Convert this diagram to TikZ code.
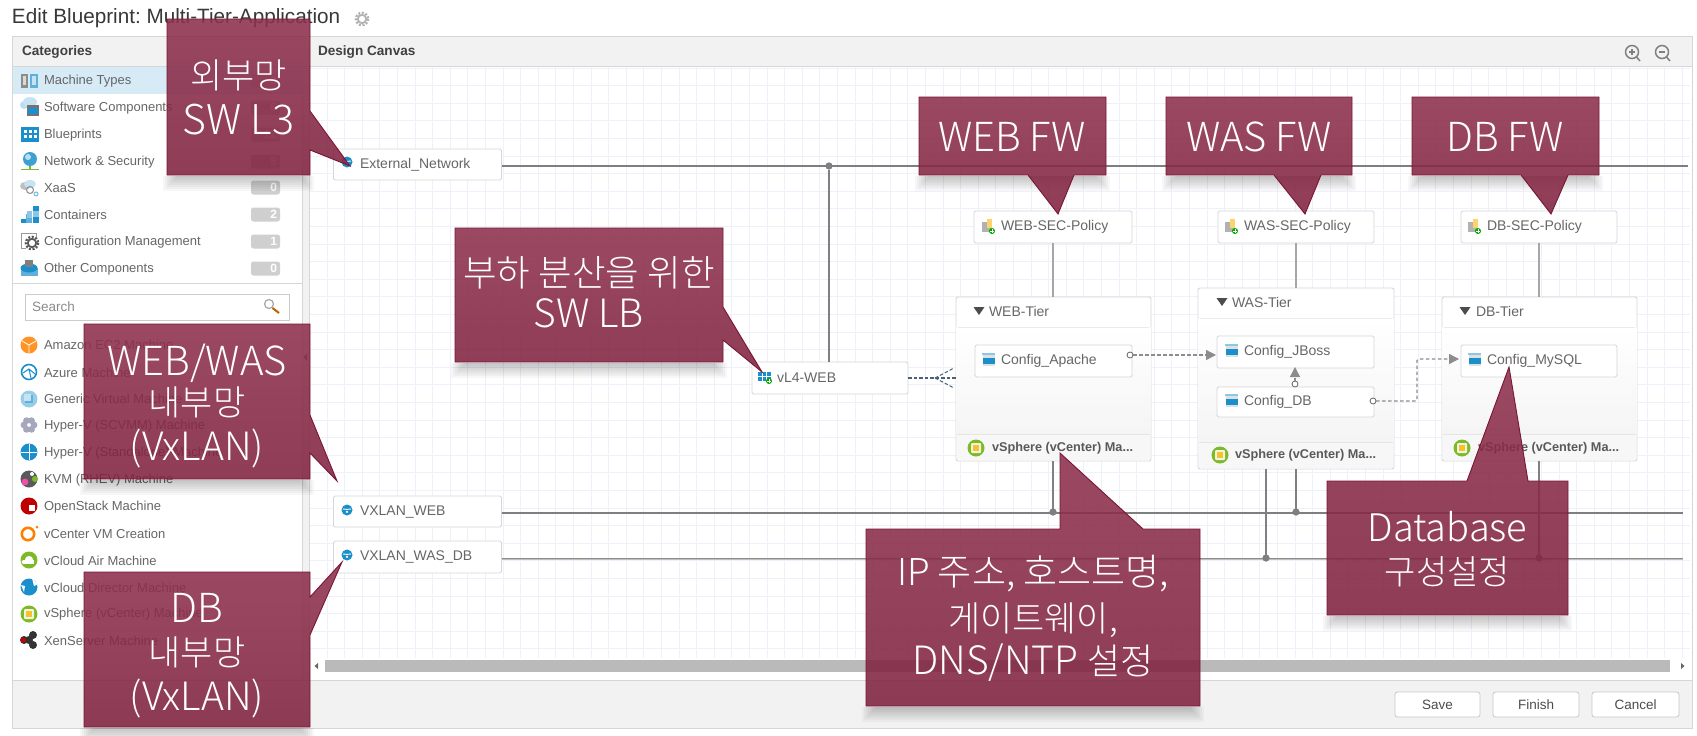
\documentclass[tikz,border=0pt]{standalone}
\usepackage{fontspec}
\setmainfont{Liberation Sans}
\newfontfamily\krfont{Noto Sans CJK KR Light}
\frenchspacing
\usetikzlibrary{arrows.meta,calc}
\definecolor{uitext}{HTML}{666666}
\definecolor{uiline}{HTML}{D6D6D6}
\definecolor{bandgray}{HTML}{F2F2F2}
\definecolor{gridline}{HTML}{EEF1FA}
\definecolor{netgray}{HTML}{7F7F7F}
\definecolor{ctop}{HTML}{8E304D}
\definecolor{cbot}{HTML}{802240}
\definecolor{cedge}{HTML}{7A1534}
\definecolor{blue1}{HTML}{1B8FCB}
\definecolor{green1}{HTML}{7DB928}
\definecolor{yellow1}{HTML}{FBC02D}
\definecolor{slatedash}{HTML}{4A5F78}
\tikzset{
  x=1pt,y=-1pt,
  every node/.style={inner sep=0pt,outer sep=0pt},
  wnode/.style n args={2}{draw=uiline,fill=white,line width=.9pt,rounded corners=1.5pt,minimum width=#1,minimum height=#2},
  tierbox/.style n args={2}{draw=uiline,fill=white,line width=.9pt,rounded corners=2pt,minimum width=#1,minimum height=#2},
  lab/.style={anchor=west,yshift=-1pt,text=uitext,font=\fontsize{14}{16}\selectfont},
  catlab/.style={anchor=west,yshift=-1pt,text=uitext,font=\fontsize{13}{15}\selectfont},
  headlab/.style={anchor=west,text=black!75,font=\fontsize{13.6}{15}\bfseries\selectfont},
  footlab/.style={anchor=west,yshift=-1pt,text=black!65,font=\fontsize{12.7}{15}\bfseries\selectfont},
  badge/.style={fill=black!19,rounded corners=2.5pt,minimum width=29pt,minimum height=14pt,text width=23pt,align=right,text=white,font=\fontsize{12}{14}\bfseries\selectfont},
  btn/.style={draw=black!22,fill=white,rounded corners=2.5pt,line width=.8pt,minimum width=#1,minimum height=25pt,text=black!70,font=\fontsize{13.5}{15}\selectfont},
  netline/.style={draw=netgray,line width=1.4pt},
  netdouble/.style={draw=black!45,line width=2.8pt},
  vline/.style={draw=black!50,line width=1.6pt},
  netdot/.style={circle,fill=netgray,minimum size=7pt},
  port/.style={circle,draw=black!60,fill=white,line width=.8pt,minimum size=6pt},
  depend/.style={draw=black!45,line width=1.3pt,dash pattern=on 3.5pt off 2.5pt,-{Triangle[length=10pt,width=10pt,fill=black!45]}},
  lbdash/.style={draw=slatedash,line width=1pt,dash pattern=on 3.5pt off 2pt},
  calloutshape/.style={draw=cedge,line width=.9pt,top color=ctop,bottom color=cbot,fill opacity=.88,draw opacity=1},
  callouttext/.style={text=white,align=center,font=\krfont\fontsize{#1}{#1}\selectfont},
}
\newcommand{\softshadow}[4]{%
  \foreach \d in {2,4,...,16}{\fill[black,opacity=.03] (#1+12-\d,#4+.5) rectangle (#2-12+\d,#4+\d);}}
\newcommand{\globeicon}[2]{\fill[blue1] (#1,#2) circle (5.5);\draw[white,line width=.9pt] (#1-4,#2-1) .. controls (#1-1,#2+1) and (#1+1,#2-2) .. (#1+4,#2-1);\fill[white] (#1,#2+1.8) circle (1.2);}
\newcommand{\configicon}[2]{\fill[black!12] (#1-5.5,#2-7) rectangle (#1+6.5,#2+6);\fill[blue1] (#1-5.5,#2-2.5) rectangle (#1+6.5,#2+3.5);\fill[blue1!50] (#1-6,#2-7.5) rectangle (#1+6.5,#2-5.5);}
\newcommand{\greenplus}[2]{\fill[green!65!black] (#1,#2) circle (3);\draw[white,line width=.8pt] (#1-1.8,#2) -- (#1+1.8,#2) (#1,#2-1.8) -- (#1,#2+1.8);}
\newcommand{\policyicon}[2]{\fill[black!30] (#1-6,#2-4) rectangle (#1+3,#2+6);\fill[yellow1!70] (#1-1,#2-7) -- (#1+4,#2-7) -- (#1+4,#2+2) -- (#1-1,#2+2) -- cycle;\greenplus{#1+4}{#2+5}}
\newcommand{\sphereicon}[2]{\fill[green1] (#1,#2) circle (8.5);\fill[white!85!green1,rounded corners=1pt] (#1-5,#2-5) rectangle (#1+5,#2+5);\fill[yellow1] (#1-3,#2-3) rectangle (#1+3,#2+3);}
\newcommand{\tri}[2]{\fill[black!70] (#1-5.5,#2-4) -- (#1+5.5,#2-4) -- (#1,#2+4) -- cycle;}
\newcommand{\gearicon}[3]{\draw[#3,line width=2.2pt,dash pattern=on 2pt off 1.6pt] (#1,#2) circle (6.2);\draw[#3,line width=1.8pt] (#1,#2) circle (4.2);}
\begin{document}
\begin{tikzpicture}
\useasboundingbox (0,0) rectangle (1697,736);
\fill[white] (0,0) rectangle (1697,736);
% title
\node[anchor=west,text=black!78,font=\fontsize{20.7}{22}\selectfont] (title) at (12,18) {Edit Blueprint: Multi-Tier-Application};
\gearicon{362}{19}{black!30}
% panel
\fill[bandgray] (12,36) rectangle (1692,66);
\fill[bandgray] (12,680) rectangle (1692,728);
\fill[bandgray] (302,66) rectangle (309,680);
\foreach \gx in {0,...,77}{\draw[gridline,line width=.9pt] (327+17.6*\gx,66) -- (327+17.6*\gx,658);}
\foreach \gy in {0,...,33}{\draw[gridline,line width=.9pt] (309,68+17.6*\gy) -- (1690,68+17.6*\gy);}
\fill[white] (309,658) rectangle (1692,680);
\draw[uiline,line width=.9pt] (12,36) rectangle (1692,728);
\draw[uiline,line width=.9pt] (12,66) -- (1692,66) (12,680) -- (1692,680) (302,66) -- (302,680) (309,66) -- (309,680);
\node[headlab] (cathead) at (22,52) {Categories};
\node[headlab] (canhead) at (318,52) {Design Canvas};
% zoom buttons
\draw[black!50,line width=1.5pt] (1632,52) circle (6.5) (1636.5,57) -- (1640,61);
\draw[black!50,line width=1.2pt] (1629,52) -- (1635,52) (1632,49) -- (1632,55);
\draw[black!50,line width=1.5pt] (1662,52) circle (6.5) (1666.5,57) -- (1670,61);
\draw[black!50,line width=1.2pt] (1659,52) -- (1665,52);
% categories
\fill[blue1!18] (13,67) rectangle (302,94);
\foreach \yy/\tt/\bb in {80/Machine Types/3,107/Software Components/6,134/Blueprints/12,161/Network \& Security/8,187/XaaS/0,214/Containers/2,241/Configuration Management/1,268/Other Components/0}{
  \node[catlab] at (44,\yy) {\tt};
  \node[badge] at (265.5,\yy+.5) {\bb};
}
% category icons
\fill[black!45] (21,74) rectangle (28,88);\fill[black!15] (23,76) rectangle (26,85);\fill[blue1!70] (30,74) rectangle (38,88);\fill[blue1!25] (32,76) rectangle (36,85);
\fill[blue1!30] (24,105) ellipse (4 and 4);\fill[blue1!25] (30,102) ellipse (7 and 5);\fill[black!55] (27,105) rectangle (39,116);\fill[blue1] (28,108) rectangle (38,114);
\fill[blue1] (21,127) rectangle (39,142);\foreach \a in {0,1,2}{\foreach \b in {0,1}{\fill[white] (24+\a*5,130+\b*5) rectangle (27+\a*5,132.5+\b*5);}}
\fill[green1] (29,166) rectangle (30.5,169);\draw[green1,line width=1pt] (21,169.5) -- (39,169.5);\fill[blue1!85] (30,159) circle (7);\fill[blue1!30] (28,157) circle (3);
\fill[black!25] (25,186) ellipse (5 and 4);\fill[blue1!25] (30,184) ellipse (6 and 4);\draw[black!45,line width=1pt] (30,190) circle (3.5);\draw[blue1!60,line width=1pt] (36,194) circle (2);
\fill[blue1] (21,219) rectangle (26,223);\fill[blue1!70] (21,214) ++(5,0) rectangle (32,223);\fill[blue1!50] (27,211) rectangle (32,218);\fill[blue1] (33,206) rectangle (39,223);\fill[blue1!50] (33,211) rectangle (39,217);
\draw[black!40,line width=.9pt] (21,233) rectangle (36,248);\fill[white] (26,238) rectangle (40,250);\gearicon{32}{243}{black!65}
\fill[blue1!70] (21,268) rectangle (38,276);\fill[blue1] (29,268) ellipse (8.5 and 4.5);\fill[black!50] (25,260) rectangle (33,267);
% search
\draw[uiline,line width=.9pt] (12,283) -- (302,283);
\node[draw=black!20,fill=white,line width=.9pt,minimum width=264pt,minimum height=26pt] (search) at (157,307) {};
\node[anchor=west,text=black!45,font=\fontsize{13.5}{15}\selectfont] (searchtxt) at (32,307) {Search};
\draw[black!35,line width=1.2pt] (269,304) circle (4.5);
\draw[orange!75!black,line width=2pt] (272.5,308) -- (279,313);
% machine list
\foreach \yy/\tt in {344/Amazon EC2 Machine,372/Azure Machine,398/Generic Virtual Machine,425/Hyper-V (SCVMM) Machine,452/Hyper-V (Standalone) Machine,479/KVM (RHEV) Machine,506/OpenStack Machine,533/vCenter VM Creation,560/vCloud Air Machine,587/vCloud Director Machine,613/vSphere (vCenter) Machine,640/XenServer Machine}{
  \node[catlab] at (44,\yy) {\tt};
}
\fill[orange!85] (29,345) circle (8.5);\draw[white,line width=.8pt] (22,341) -- (29,345) -- (36,341) (29,345) -- (29,353);
\draw[blue1,line width=1.6pt] (29,372) circle (7.5);\draw[blue1,line width=1pt] (23,373) -- (29,369) -- (35,374) (29,369) -- (31,378);
\fill[blue1!45] (29,399) circle (8.5);\fill[blue1!70] (25,395) rectangle (33,403);\fill[blue1!25] (24,394) rectangle (31,401);
\foreach \a in {0,60,...,300}{\fill[blue!25!black!35] (29,425) ++(\a:5) circle (3.4);}
\fill[blue1] (29,452) circle (8.5);\draw[white,line width=1pt] (21,452) -- (37,452) (29,444) -- (29,460);
\fill[black!65] (29,479) circle (8.5);\fill[magenta!70] (25,482) circle (3.4);\fill[green1] (35,479) circle (3);\fill[white] (32,474) circle (2);
\fill[red!75!black] (29,506) circle (8.5);\fill[white] (29,505) rectangle (35,511);
\draw[orange,line width=2.6pt] (28,534) circle (6.2);\fill[orange] (37,527) circle (1.5);
\fill[green1] (29,560) circle (8.5);\fill[white] (24,562) ellipse (2.5 and 2);\fill[white] (29,559.5) ellipse (4 and 3.5);\fill[white] (24,560) rectangle (34,563.5);
\fill[blue1] (29,587) circle (8.5);\fill[white] (32,578) -- (38,584) -- (34,586) -- cycle;\fill[white] (21,585) -- (25,586) -- (24,592) -- cycle;
\sphereicon{29}{614}
\fill[black!80] (24,640) circle (4);\fill[black!80] (33,635) circle (4);\fill[black!80] (33,645) circle (4);\fill[black!80] (29,640) circle (4);\fill[red!80!black] (23,640) circle (2.6);
% scrollbars
\fill[black!27] (325,660) rectangle (1670,672);
\fill[black!60] (318,663) -- (318,669) -- (314.5,666) -- cycle;
\fill[black!60] (1681,663) -- (1681,669) -- (1684.5,666) -- cycle;
\fill[black!60] (303.5,357) -- (307,353.5) -- (307,360.5) -- cycle;
% network nodes
\node[wnode={168pt}{31pt}] (ext) at (417.5,164.5) {};
\node[wnode={168pt}{31pt}] (vxweb) at (417.5,511.5) {};
\node[wnode={168pt}{32pt}] (vxdb) at (417.5,557) {};
\node[wnode={156pt}{32pt}] (vl) at (830,378) {};
\node[lab] (extlab) at (360,164) {External\_Network};
\node[lab] (vxweblab) at (360,511) {VXLAN\_WEB};
\node[lab] (vxdblab) at (360,556) {VXLAN\_WAS\_DB};
\node[lab] (vllab) at (777,377) {vL4-WEB};
\globeicon{347}{162}
\globeicon{347}{510}
\globeicon{347}{555}
\fill[blue1] (758,372) rectangle (771,381);\draw[white,line width=.6pt] (758,376) -- (771,376) (762,372) -- (762,381) (766,372) -- (766,381);\greenplus{769}{381}
% policies
\node[wnode={158pt}{32pt}] (webpol) at (1053,227) {};
\node[wnode={156pt}{32pt}] (waspol) at (1296,227) {};
\node[wnode={156pt}{32pt}] (dbpol) at (1539,227) {};
\node[lab] (webpoll) at (1001,226) {WEB-SEC-Policy};
\node[lab] (waspoll) at (1244,226) {WAS-SEC-Policy};
\node[lab] (dbpoll) at (1487,226) {DB-SEC-Policy};
\policyicon{988}{226}
\policyicon{1231}{226}
\policyicon{1474}{226}
% junctions and bus ends
\coordinate (extend) at (1688,166);
\coordinate (webend) at (1683,513);
\coordinate (dbend) at (1683,559);
\node[netdot] (jvl) at (829,166) {};
\node[netdot] (jweb) at (1053,512) {};
\node[netdot] (jwas) at (1296,512) {};
\node[netdot] (jwasdb) at (1266,558) {};
\node[netdot] (jdb) at (1539,558) {};
% tiers
\node[tierbox={195pt}{164pt}] (webtier) at (1053.5,379) {};
\node[tierbox={196pt}{181pt}] (wastier) at (1296,378.5) {};
\node[tierbox={195pt}{164pt}] (dbtier) at (1539.5,379) {};
% buses
\draw[netline] (ext.east |- extend) -- (extend);
\draw[netline] (vxweb.east |- webend) -- (webend);
\draw[netdouble] (vxdb.east |- dbend) -- (dbend);
\draw[white!75!black,line width=.8pt] (vxdb.east |- dbend) -- (dbend);
\draw[vline] (vl.north -| jvl) -- (jvl);
\draw[vline,black!35] (webpol.south) -- (webpol.south |- webtier.north);
\draw[vline,black!35] (waspol.south) -- (waspol.south |- wastier.north);
\draw[vline,black!35] (dbpol.south) -- (dbpol.south |- dbtier.north);
\draw[vline] (webtier.south -| jweb) -- (jweb);
\draw[vline] (wastier.south -| jwas) -- (jwas);
\draw[vline] (wastier.south -| jwasdb) -- (jwasdb);
\draw[vline] (dbtier.south -| jdb) -- (jdb);
\node[netdot] at (jvl) {};\node[netdot] at (jweb) {};\node[netdot] at (jwas) {};\node[netdot] at (jwasdb) {};\node[netdot] at (jdb) {};
% tier interiors
\foreach \xa/\xb/\ya/\yb/\yc/\yd in {956/1151/297/327/434/461,1198/1394/288/318/442/469,1442/1637/297/327/434/461}{
  \fill[top color=white,bottom color=black!4] (\xa+.6,\yb) rectangle (\xb-.6,\yc);
  \draw[black!8,line width=.9pt] (\xa+2,\yb) -- (\xb-2,\yb);
  \fill[rounded corners=1.5pt,black!3] (\xa+.6,\yc) rectangle (\xb-.6,\yd-.6);
  \draw[black!10,line width=.9pt] (\xa+.6,\yc) -- (\xb-.6,\yc);
}
\tri{979}{311}\tri{1222}{302}\tri{1465}{311}
\node[lab,yshift=.5pt] (webhead) at (989,311) {WEB-Tier};
\node[lab,yshift=.5pt] (washead) at (1232,302) {WAS-Tier};
\node[lab,yshift=.5pt] (dbhead) at (1476,311) {DB-Tier};
\node[wnode={157pt}{32pt}] (apache) at (1053.5,361) {};
\node[wnode={157pt}{32pt}] (jboss) at (1295.5,352) {};
\node[wnode={157pt}{30pt}] (cfgdb) at (1295.5,402) {};
\node[wnode={156pt}{32pt}] (mysql) at (1539,361) {};
\node[lab] (apachel) at (1001,360) {Config\_Apache};
\node[lab] (jbossl) at (1244,351) {Config\_JBoss};
\node[lab] (cfgdbl) at (1244,401) {Config\_DB};
\node[lab] (mysqll) at (1487,360) {Config\_MySQL};
\configicon{988}{360}
\configicon{1231}{351}
\configicon{1231}{401}
\configicon{1474}{360}
\sphereicon{976}{448}\sphereicon{1220}{455}\sphereicon{1462}{448}
\node[footlab] (webfoot) at (992,447.5) {vSphere (vCenter) Ma...};
\node[footlab] (wasfoot) at (1235,454.5) {vSphere (vCenter) Ma...};
\node[footlab] (dbfoot) at (1478,447.5) {vSphere (vCenter) Ma...};
% dependencies
\node[port] (papache) at (1130,355) {};
\node[port] (pdbtop) at (1295,384) {};
\node[port] (pdbright) at (1373,401) {};
\coordinate (jbossin) at (1216,355);
\coordinate (jbossbot) at (1295,367);
\coordinate (mysqlin) at (1459,359);
\draw[depend] (papache) -- (jbossin);
\draw[depend] (pdbtop) -- (jbossbot);
\draw[depend,rounded corners=1.5pt] (pdbright) -- ++(44,0) |- (mysqlin);
\draw[lbdash,line width=1.3pt] (vl.east) -- (webtier.west |- vl.east);
\coordinate (fork) at (935,378);
\draw[lbdash] (fork) -- (954,368);
\draw[lbdash] (fork) -- (954,388);
% footer buttons
\node[btn=85pt] (save) at (1437.5,704.5) {Save};
\node[btn=86pt] (finish) at (1536,704.5) {Finish};
\node[btn=87pt] (cancel) at (1635.5,704.5) {Cancel};
% callout shadows
\softshadow{167}{310}{19}{175}
\softshadow{84}{310}{324}{479}
\softshadow{84}{310}{572}{727}
\softshadow{455}{723}{228}{362}
\softshadow{866}{1200}{529}{706}
\softshadow{1327}{1568}{481}{615}
\softshadow{919}{1106}{97}{175}
\softshadow{1166}{1352}{97}{175}
\softshadow{1412}{1599}{97}{175}
% callouts
\path[calloutshape] (167,19) -- (310,19) -- (310,111) -- (350,166) -- (310,150) -- (310,175) -- (167,175) -- cycle;
\path[calloutshape] (84,324) -- (310,324) -- (310,415) -- (337,481) -- (310,453) -- (310,479) -- (84,479) -- cycle;
\path[calloutshape] (84,572) -- (310,572) -- (310,597) -- (342,562) -- (310,635) -- (310,727) -- (84,727) -- cycle;
\path[calloutshape] (455,228) -- (723,228) -- (723,307) -- (762,372) -- (723,340) -- (723,362) -- (455,362) -- cycle;
\path[calloutshape] (866,529) -- (1060,529) -- (1060,453) -- (1143,529) -- (1200,529) -- (1200,706) -- (866,706) -- cycle;
\path[calloutshape] (1327,481) -- (1467,481) -- (1509,367) -- (1528,481) -- (1568,481) -- (1568,615) -- (1327,615) -- cycle;
\path[calloutshape] (919,97) -- (1106,97) -- (1106,175) -- (1074,175) -- (1058,214) -- (1028,175) -- (919,175) -- cycle;
\path[calloutshape] (1166,97) -- (1352,97) -- (1352,175) -- (1321,175) -- (1305,214) -- (1274,175) -- (1166,175) -- cycle;
\path[calloutshape] (1412,97) -- (1599,97) -- (1599,175) -- (1568,175) -- (1551,214) -- (1521,175) -- (1412,175) -- cycle;
\node[callouttext=35] (c1a) at (238.5,75) {외부망};
\node[callouttext=41] (c1b) at (238.5,120) {SW L3};
\node[callouttext=40] (c2a) at (197,363) {WEB/WAS};
\node[callouttext=35] (c2b) at (197,402) {내부망};
\node[callouttext=39] (c2c) at (197,448) {(VxLAN)};
\node[callouttext=40] (c3a) at (197,608) {DB};
\node[callouttext=35] (c3b) at (197,652) {내부망};
\node[callouttext=39] (c3c) at (197,698) {(VxLAN)};
\node[callouttext=36.5] (c4a) at (589,273) {부하 분산을 위한};
\node[callouttext=39] (c4b) at (589,313) {SW LB};
\node[callouttext=37] (c5a) at (1033,574) {IP 주소, 호스트명,};
\node[callouttext=35] (c5b) at (1033,620) {게이트웨이,};
\node[callouttext=39] (c5c) at (1033,663) {DNS/NTP {\fontsize{36}{36}\selectfont 설정}};
\node[callouttext=38] (c6a) at (1447.5,527) {Database};
\node[callouttext=34] (c6b) at (1447.5,572) {구성설정};
\node[callouttext=40] (c7) at (1012,137) {WEB FW};
\node[callouttext=40] (c8) at (1259,137) {WAS FW};
\node[callouttext=40] (c9) at (1505,137) {DB FW};
\end{tikzpicture}
\end{document}
